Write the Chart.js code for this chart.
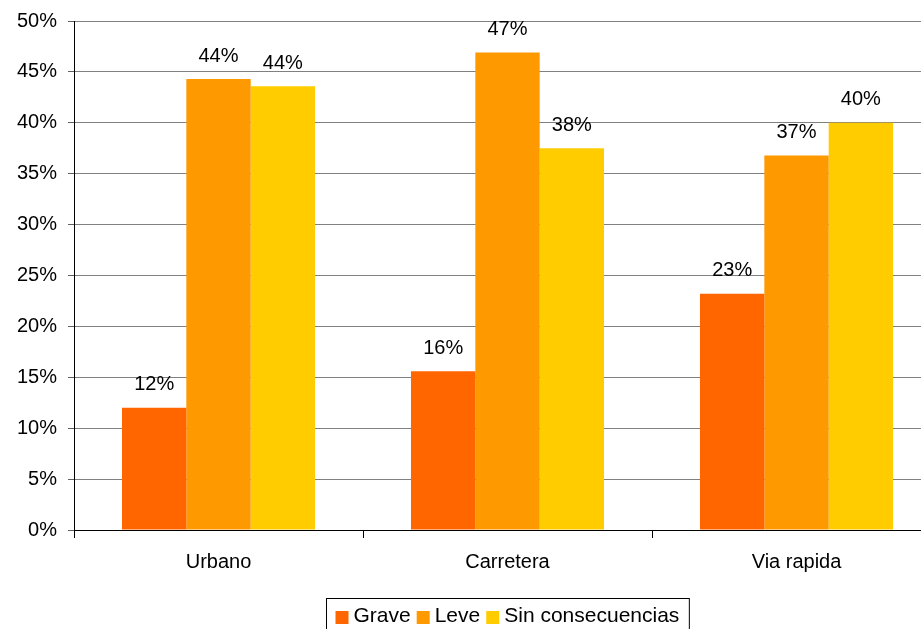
<!DOCTYPE html>
<html>
<head>
<meta charset="utf-8">
<script src="https://cdn.jsdelivr.net/npm/chart.js@4.4.1/dist/chart.umd.min.js"></script>
<style>
html, body { margin: 0; padding: 0; overflow: hidden; background: #fff; }
#wrap { width: 950px; height: 629px; }
</style>
</head>
<body>
<div id="wrap"><canvas id="myChart"></canvas></div>
<script>
var categories = ['Urbano', 'Carretera', 'Via rapida'];
var seriesNames = ['Grave', 'Leve', 'Sin consecuencias'];
var grave = [12.0, 15.6, 23.2];
var leve = [44.3, 46.9, 36.8];
var sinConsecuencias = [43.6, 37.5, 40.0];
var colors = ['#FF6600', '#FF9900', '#FFCC00'];

var FONT = '"Liberation Sans", Arial, sans-serif';

// value labels above each bar
var barLabels = {
	id: 'barLabels',
	afterDatasetsDraw: function(chart) {
		var ctx = chart.ctx;
		ctx.save();
		ctx.font = '20px ' + FONT;
		ctx.fillStyle = '#000';
		ctx.textAlign = 'center';
		ctx.textBaseline = 'middle';
		chart.data.datasets.forEach(function(ds, i) {
			chart.getDatasetMeta(i).data.forEach(function(bar, j) {
				ctx.fillText(Math.round(ds.data[j]) + '%', bar.x, bar.y - 23);
			});
		});
		ctx.restore();
	}
};

// boxed legend under the axis
var boxLegend = {
	id: 'boxLegend',
	afterDraw: function(chart) {
		var ctx = chart.ctx;
		var area = chart.chartArea;
		ctx.save();
		ctx.font = '21px ' + FONT;
		var box = 13, gapText = 5, gapItem = 6, padL = 9, padR = 10;
		var widths = seriesNames.map(function(n) { return ctx.measureText(n).width; });
		var total = padL + padR;
		widths.forEach(function(w, i) { total += box + gapText + w + (i < widths.length - 1 ? gapItem : 0); });
		var left = Math.round((area.left + area.right) / 2 - total / 2) + 0.5;
		var top = 598.5;
		ctx.strokeStyle = '#000';
		ctx.lineWidth = 1;
		ctx.strokeRect(left, top, total, 40);
		var x = left + padL;
		ctx.textBaseline = 'middle';
		ctx.fillStyle = '#000';
		seriesNames.forEach(function(n, i) {
			ctx.fillStyle = colors[i];
			ctx.fillRect(x, 611, box, box);
			x += box + gapText;
			ctx.fillStyle = '#000';
			ctx.fillText(n, x, 616);
			x += widths[i] + gapItem;
		});
		ctx.restore();
	}
};

var ctx = document.getElementById('myChart');
var myChart = new Chart(ctx, {
	type: 'bar',
	data: {
		labels: categories,
		datasets: [
			{ label: seriesNames[0], data: grave, backgroundColor: colors[0] },
			{ label: seriesNames[1], data: leve, backgroundColor: colors[1] },
			{ label: seriesNames[2], data: sinConsecuencias, backgroundColor: colors[2] }
		]
	},
	options: {
		responsive: true,
		maintainAspectRatio: false,
		animation: false,
		devicePixelRatio: 1,
		datasets: {
			bar: { categoryPercentage: 0.668, barPercentage: 1.0 }
		},
		layout: { padding: { top: 21, right: 9, left: 0, bottom: 0 } },
		plugins: {
			legend: { display: false },
			tooltip: { enabled: false }
		},
		scales: {
			x: {
				grid: { drawOnChartArea: false, offset: true, tickLength: 8, color: '#000' },
				border: { color: '#000' },
				ticks: { color: '#000', font: { family: FONT, size: 20 }, padding: 12 },
				afterFit: function(scale) { scale.height = 99; }
			},
			y: {
				min: 0,
				max: 50,
				ticks: {
					stepSize: 5,
					color: '#000',
					padding: 11,
					font: { family: FONT, size: 20, lineHeight: 1 },
					callback: function(v) { return v + '%'; }
				},
				grid: {
					tickLength: 6,
					color: function(c) { return c.tick && c.tick.value === 0 ? '#000' : '#808080'; },
					tickColor: '#606060'
				},
				border: { color: '#000' },
				afterFit: function(scale) { scale.width = 74; }
			}
		}
	},
	plugins: [barLabels, boxLegend]
});
</script>
</body>
</html>
